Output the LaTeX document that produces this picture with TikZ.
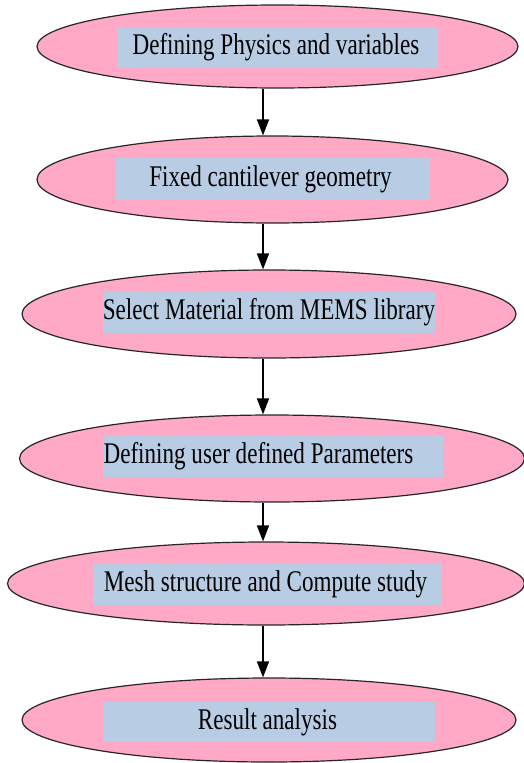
\documentclass[tikz,border=0pt]{standalone}
\usepackage{fontspec}
\setmainfont{Liberation Serif}[FakeStretch=0.77]
\usetikzlibrary{shapes.geometric, arrows.meta}
\definecolor{stagepink}{HTML}{FFA9C7}
\definecolor{panelblue}{HTML}{B8CCE4}

\begin{document}
\begin{tikzpicture}[
        x=1pt, y=-1pt,
        stage/.style={ellipse, draw=black!85, line width=1.2pt, fill=stagepink, inner sep=0pt},
        panel/.style={rectangle, fill=panelblue, inner sep=0pt, minimum height=41pt},
        caption/.style={inner sep=0pt, font=\fontsize{30}{32}\selectfont, text=black},
        arrow/.style={-{Triangle[length=16pt, width=12pt]}, line width=1.4pt, black}
    ]
        \useasboundingbox (0,0) rectangle (523,763);
        \coordinate (axis) at (263,0);
        \node[stage, minimum width=481, minimum height=83] (s1) at (277.5,46.5) {};
        \node[panel, minimum width=321] (p1) at (277.5,47.5) {};
        \node[caption] (t1) at (276,47.5) {Defining Physics and variables};
        \node[stage, minimum width=471, minimum height=87] (s2) at (272.5,179.5) {};
        \node[panel, minimum width=314, minimum height=42] (p2) at (273,179) {};
        \node[caption] (t2) at (270.5,179) {Fixed cantilever geometry};
        \node[stage, minimum width=494, minimum height=88] (s3) at (269,314) {};
        \node[panel, minimum width=332] (p3) at (269,312.5) {};
        \node[caption] (t3) at (269,312.5) {Select Material from MEMS library};
        \node[stage, minimum width=505, minimum height=87] (s4) at (272,458.5) {};
        \node[panel, minimum width=340] (p4) at (273,456.5) {};
        \node[caption] (t4) at (258.5,456.5) {Defining user defined Parameters};
        \node[stage, minimum width=517, minimum height=83] (s5) at (266,583.5) {};
        \node[panel, minimum width=349, minimum height=42] (p5) at (267.5,584) {};
        \node[caption] (t5) at (265.5,584) {Mesh structure and Compute study};
        \node[stage, minimum width=494, minimum height=84] (s6) at (269,720) {};
        \node[panel, minimum width=332, minimum height=40] (p6) at (269,722) {};
        \node[caption] (t6) at (267.5,722) {Result analysis};
        \draw[arrow] (s1.south -| axis) -- (s2.north -| axis);
        \draw[arrow] (s2.south -| axis) -- (s3.north -| axis);
        \draw[arrow] (s3.south -| axis) -- (s4.north -| axis);
        \draw[arrow] (s4.south -| axis) -- (s5.north -| axis);
        \draw[arrow] (s5.south -| axis) -- (s6.north -| axis);
    \end{tikzpicture}
\end{document}
